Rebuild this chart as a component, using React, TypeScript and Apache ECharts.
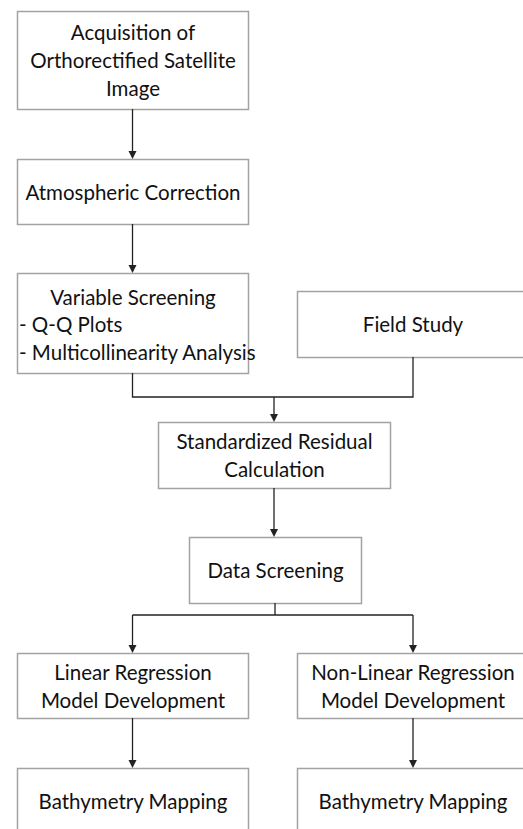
import React, { useEffect, useRef } from "react";
import * as echarts from "echarts";

// Node labels (text content of each box)
const boxIds = ["acq", "atm", "var", "field", "std", "data", "lin", "nonlin", "bath1", "bath2"];
const boxLines: string[][] = [
  ["Acquisition of", "Orthorectified Satellite", "Image"],
  ["Atmospheric Correction"],
  ["Variable Screening"],
  ["Field Study"],
  ["Standardized Residual", "Calculation"],
  ["Data Screening"],
  ["Linear Regression", "Model Development"],
  ["Non-Linear Regression", "Model Development"],
  ["Bathymetry Mapping"],
  ["Bathymetry Mapping"],
];
const bulletLines = ["- Q-Q Plots", "- Multicollinearity Analysis"];

// Layout (px): [x, y, w, h]
const layout: Record<string, number[]> = {
  acq: [17, 11, 231, 98],
  atm: [17, 159, 231, 65],
  var: [17, 273, 231, 100],
  field: [297, 291, 231, 66],
  std: [158, 422, 232, 66],
  data: [189, 537, 172, 66],
  lin: [17, 653, 231, 65],
  nonlin: [297, 653, 231, 65],
  bath1: [17, 768, 231, 66],
  bath2: [297, 768, 231, 66],
};

const FONT = "Lato";
const FS = 20.5;
const LH = 28;
const BORDER = "#a3a3a3";
const LINE = "#222";

export default function App() {
  const ref = useRef<HTMLDivElement>(null);
  useEffect(() => {
    document.body.style.margin = "0";
    const chart = echarts.init(ref.current!, undefined, { renderer: "svg" });
    const els: any[] = [];
    const cx = (id: string) => layout[id][0] + layout[id][2] / 2;
    const top = (id: string) => layout[id][1];
    const bot = (id: string) => layout[id][1] + layout[id][3];

    boxIds.forEach((id, i) => {
      const [x, y, w, h] = layout[id];
      els.push({
        type: "rect",
        shape: { x: x + 0.5, y: y + 0.5, width: w, height: h },
        style: { fill: "#fff", stroke: BORDER, lineWidth: 1.5 },
        z: 1,
      });
      const lines = boxLines[i];
      let centerY = y + h / 2;
      if (id === "var") centerY = y + 24;
      const startY = centerY - ((lines.length - 1) * LH) / 2;
      lines.forEach((t, k) => {
        els.push({
          type: "text",
          x: x + w / 2 + 0.5,
          y: startY + k * LH,
          style: {
            text: t,
            fill: "#111",
            font: `${FS}px ${FONT}`,
            align: "center",
            verticalAlign: "middle",
          },
          z: 3,
        });
      });
    });
    bulletLines.forEach((t, k) => {
      els.push({
        type: "text",
        x: layout.var[0] + 2,
        y: layout.var[1] + 51 + k * LH,
        style: { text: t, fill: "#111", font: `${FS}px ${FONT}`, align: "left", verticalAlign: "middle" },
        z: 3,
      });
    });

    const line = (pts: number[][]) =>
      els.push({ type: "polyline", shape: { points: pts }, style: { stroke: LINE, lineWidth: 1.3, fill: null }, z: 2 });
    const arrow = (x: number, y1: number, y2: number) => {
      line([[x, y1], [x, y2 - 6]]);
      els.push({
        type: "polygon",
        shape: { points: [[x - 4, y2 - 8], [x + 4, y2 - 8], [x, y2]] },
        style: { fill: LINE },
        z: 2,
      });
    };

    const L = cx("acq");
    const R = 413;
    arrow(L, bot("acq"), top("atm"));
    arrow(L, bot("atm"), top("var"));
    const j1 = 397;
    line([[L, bot("var")], [L, j1], [R, j1], [R, bot("field")]]);
    arrow(274, j1, top("std"));
    arrow(274, bot("std"), top("data"));
    const j2 = 615;
    line([[275, bot("data")], [275, j2]]);
    line([[L, j2], [R, j2]]);
    arrow(L, j2, top("lin"));
    arrow(R, j2, top("nonlin"));
    arrow(L, bot("lin"), top("bath1"));
    arrow(R, bot("nonlin"), top("bath2"));

    chart.setOption({
      animation: false,
      backgroundColor: "#fff",
      graphic: { elements: els },
    });
    return () => chart.dispose();
  }, []);
  return <div ref={ref} style={{ position: "absolute", left: 0, top: 0, width: 523, height: 829 }} />;
}
